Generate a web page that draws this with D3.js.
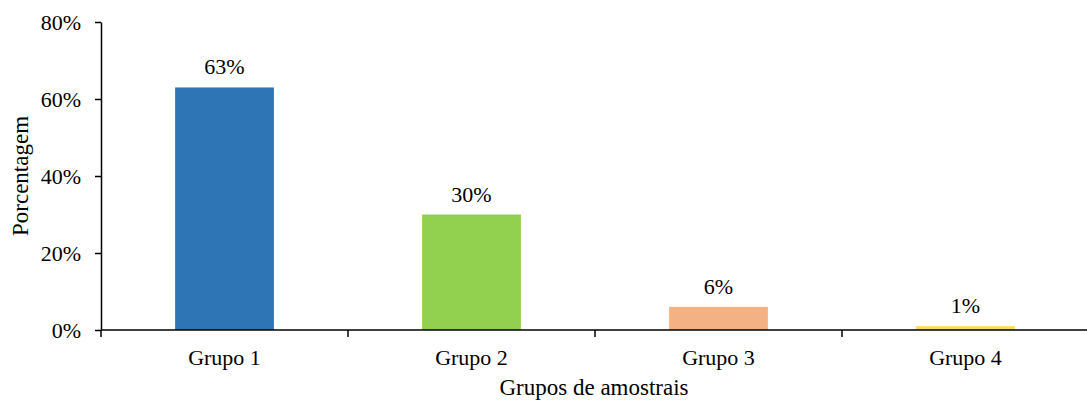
<!DOCTYPE html>
<html>
<head>
<meta charset="utf-8">
<script src="https://cdn.jsdelivr.net/npm/d3@7"></script>
<style>
  html, body { margin: 0; padding: 0; background: #fff; }
  svg text { font-family: "Liberation Serif", "Times New Roman", "DejaVu Serif", serif; }
</style>
</head>
<body>
<svg id="chart" width="1087" height="400"></svg>
<script>
// Share of samples per group
const categories = ["Grupo 1", "Grupo 2", "Grupo 3", "Grupo 4"];
const values = [63, 30, 6, 1];
const barColors = ["#2E75B6", "#92D050", "#F4B183", "#FFD966"];
const yTicks = [0, 20, 40, 60, 80];

const FONT = "Liberation Serif";
const svg = d3.select("#chart");
const margin = { left: 101, right: -2, top: 22, bottom: 70 };
const W = 1087, H = 400;

const x = d3.scaleBand()
  .domain(categories)
  .range([margin.left, W - margin.right])
  .paddingInner(0)
  .paddingOuter(0);

const y = d3.scaleLinear()
  .domain([0, 80])
  .range([H - margin.bottom, margin.top]);

const barW = x.bandwidth() * 0.4;

// bars
svg.append("g").selectAll("rect")
  .data(values)
  .join("rect")
  .attr("x", (d, i) => x(categories[i]) + (x.bandwidth() - barW) / 2)
  .attr("y", d => y(d))
  .attr("width", barW)
  .attr("height", d => y(0) - y(d))
  .attr("fill", (d, i) => barColors[i]);

// value labels
svg.append("g").selectAll("text")
  .data(values)
  .join("text")
  .attr("x", (d, i) => x(categories[i]) + x.bandwidth() / 2)
  .attr("y", d => y(d) - 13)
  .attr("text-anchor", "middle")
  .attr("font-family", FONT)
  .attr("font-size", 22)
  .attr("fill", "#000")
  .text(d => d + "%");

// y axis
const yAxis = d3.axisLeft(y)
  .tickValues(yTicks)
  .tickFormat(d => d + "%")
  .tickSize(6)
  .tickSizeOuter(0)
  .tickPadding(14);
const gy = svg.append("g")
  .attr("transform", `translate(${margin.left},0)`)
  .call(yAxis)
  .attr("font-family", FONT)
  .attr("font-size", 22);
gy.select(".domain").attr("stroke", "#000").attr("stroke-width", 1.5);
gy.selectAll(".tick line").attr("stroke", "#000").attr("stroke-width", 1.5);
gy.selectAll(".tick text")
  .attr("font-size", 22)
  .attr("font-family", FONT)
  .attr("fill", "#000")
  .attr("dy", "0.32em");

// x axis: line with ticks at band boundaries
const gx = svg.append("g")
  .attr("transform", `translate(0,${y(0)})`);
gx.append("line")
  .attr("x1", margin.left).attr("x2", W - margin.right)
  .attr("stroke", "#000").attr("stroke-width", 1.5);
const bounds = categories.map(c => x(c)).concat([x(categories[categories.length - 1]) + x.bandwidth()]);
gx.selectAll("line.tick")
  .data(bounds)
  .join("line")
  .attr("class", "tick")
  .attr("x1", d => d).attr("x2", d => d)
  .attr("y1", 0).attr("y2", 7)
  .attr("stroke", "#000").attr("stroke-width", 1.5);
gx.selectAll("text")
  .data(categories)
  .join("text")
  .attr("x", d => x(d) + x.bandwidth() / 2)
  .attr("y", 35)
  .attr("text-anchor", "middle")
  .attr("font-family", FONT)
  .attr("font-size", 22)
  .attr("fill", "#000")
  .text(d => d);

// axis titles
svg.append("text")
  .attr("x", (margin.left + W) / 2)
  .attr("y", 395)
  .attr("text-anchor", "middle")
  .attr("font-family", FONT)
  .attr("font-size", 23)
  .attr("fill", "#000")
  .text("Grupos de amostrais");

svg.append("text")
  .attr("transform", `translate(28,${(y(0) + y(80)) / 2}) rotate(-90)`)
  .attr("text-anchor", "middle")
  .attr("font-family", FONT)
  .attr("font-size", 23)
  .attr("fill", "#000")
  .text("Porcentagem");
</script>
</body>
</html>
